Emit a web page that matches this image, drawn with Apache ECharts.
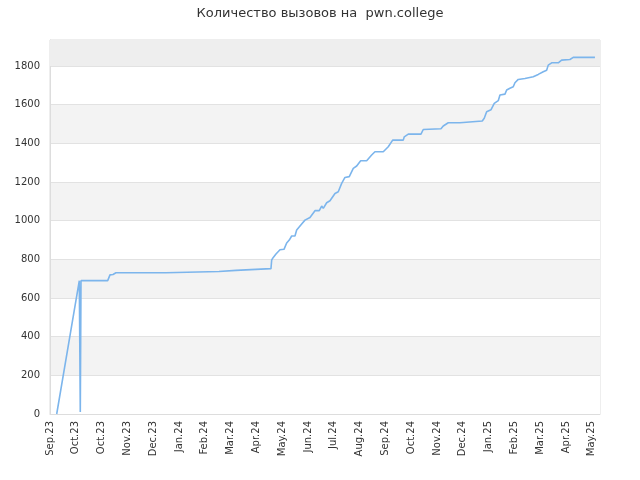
<!DOCTYPE html>
<html>
<head>
<meta charset="utf-8">
<script src="https://cdn.jsdelivr.net/npm/echarts@6/dist/echarts.min.js"></script>
<style>
html,body{margin:0;padding:0;background:#fff;}
#chart{width:640px;height:480px;}
</style>
</head>
<body>
<div id="chart"></div>
<script>
var titleText = 'Количество вызовов на  pwn.college';
var tickLabels = ['Sep.23','Oct.23','Oct.23','Nov.23','Dec.23','Jan.24','Feb.24','Mar.24','Apr.24','May.24','Jun.24','Jul.24','Aug.24','Sep.24','Oct.24','Nov.24','Dec.24','Jan.25','Feb.25','Mar.25','Apr.25','May.25'];
// x positions in tick-label units (0 = Sep.23, 21 = May.25)
var xPos = [0.260,1.136,1.163,1.174,1.202,2.236,2.326,2.442,2.558,4.496,4.535,6.550,6.589,7.209,7.248,8.566,8.593,8.655,8.760,8.915,9.070,9.174,9.275,9.368,9.496,9.562,9.756,9.884,10.078,10.271,10.438,10.531,10.593,10.725,10.853,11.047,11.174,11.306,11.434,11.601,11.756,11.888,12.043,12.275,12.469,12.597,12.919,13.112,13.283,13.694,13.733,13.888,14.380,14.469,14.508,15.155,15.244,15.438,15.891,15.957,16.756,16.833,16.926,17.093,17.221,17.376,17.442,17.636,17.702,17.829,17.957,18.023,18.151,18.411,18.733,18.926,19.120,19.252,19.314,19.446,19.702,19.833,20.155,20.283,21.124];
var calls = [0,690,690,10,690,690,720,722,731,731,737,737,743,743,752,752,797,810,828,850,852,885,900,921,921,952,983,1003,1017,1052,1052,1076,1064,1093,1103,1141,1150,1193,1224,1228,1271,1283,1310,1310,1340,1357,1357,1383,1417,1417,1434,1448,1448,1472,1476,1476,1490,1507,1507,1516,1516,1530,1564,1574,1607,1621,1650,1655,1676,1685,1693,1714,1731,1736,1745,1757,1771,1779,1805,1817,1817,1831,1834,1845,1845];
var yMax = 1935;
var xMax = 21.32;

var data = xPos.map(function (x, i) { return [x, calls[i]]; });
var chart = echarts.init(document.getElementById('chart'), null, {renderer: 'canvas'});
var font = 'DejaVu Sans';
chart.setOption({
  animation: false,
  backgroundColor: '#ffffff',
  title: {
    text: titleText, left: 'center', top: 2,
    textStyle: {fontFamily: font, fontSize: 13, fontWeight: 'normal', color: '#333333'}
  },
  grid: {left: 50, right: 40, top: 40, bottom: 66, show: true, borderColor: '#dddddd', borderWidth: 1, backgroundColor: 'transparent'},
  xAxis: {
    type: 'value', min: 0, max: xMax, interval: 1,
    axisLine: {show: true, lineStyle: {color: '#dddddd'}},
    axisTick: {show: false},
    splitLine: {show: false},
    axisLabel: {
      rotate: 90, margin: 7, fontFamily: font, fontSize: 10, color: '#333333',
      showMaxLabel: false,
      formatter: function (v) {
        var i = Math.round(v);
        return Math.abs(v - i) < 1e-6 && tickLabels[i] ? tickLabels[i] : '';
      }
    }
  },
  yAxis: {
    type: 'value', min: 0, max: yMax, interval: 200,
    axisLine: {show: true, lineStyle: {color: '#dddddd'}},
    axisTick: {show: false},
    axisLabel: {fontFamily: font, fontSize: 10, color: '#333333', margin: 10, showMaxLabel: false,
      formatter: function (v) { return String(v); }},
    splitLine: {show: true, lineStyle: {color: '#e2e2e2', width: 1}},
    splitArea: {show: true, areaStyle: {color: ['#ffffff', '#f3f3f3']}}
  },
  series: [{
    type: 'line',
    data: data,
    showSymbol: false,
    lineStyle: {color: '#7cb5ec', width: 1.6},
    itemStyle: {color: '#7cb5ec'},
    markArea: {
      silent: true,
      itemStyle: {color: '#eeeeee'},
      data: [[{yAxis: 1800}, {yAxis: yMax}]]
    },
    z: 3
  }]
});
</script>
</body>
</html>
